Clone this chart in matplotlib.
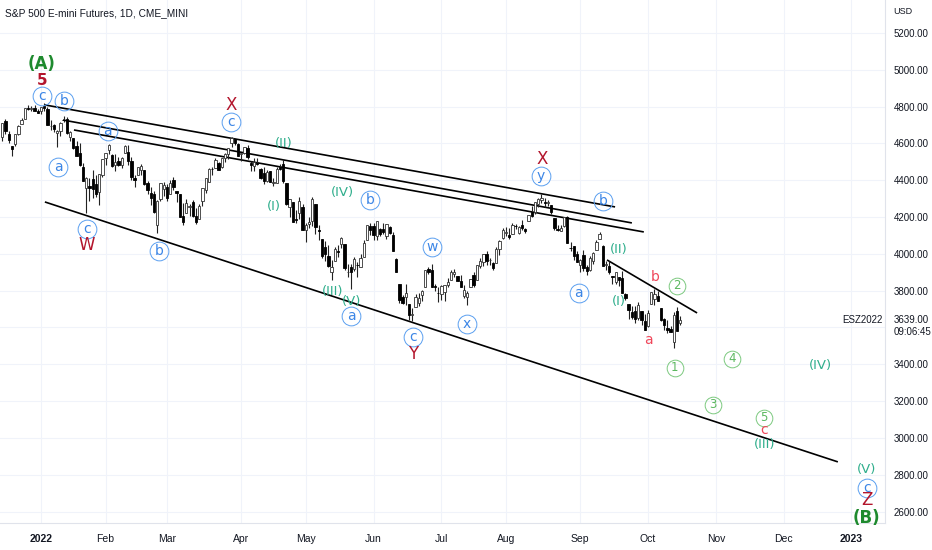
import numpy as np
import pandas as pd
import matplotlib
matplotlib.use('Agg')
import matplotlib.pyplot as plt

# trading calendar (CME equity futures, US holidays)
holidays = ['2021-12-24', '2022-01-17', '2022-02-21', '2022-04-15', '2022-05-30',
            '2022-06-20', '2022-07-04', '2022-09-05', '2022-11-24', '2022-12-26',
            '2023-01-02']
cal = pd.bdate_range('2021-12-13', '2023-02-28', freq='C', holidays=holidays)
first_bar = '2021-12-15'
n_bars = 211

# daily OHLC, Dec 15 2021 .. Oct 17 2022 (one line per month)
opens = [
    4636, 4719, 4652, 4588, 4595, 4650, 4703, 4733, 4795, 4788, 4795, 4776,
    4778, 4804, 4787, 4693, 4698, 4655, 4669, 4728, 4734, 4637, 4632, 4588, 4548, 4471, 4357, 4367, 4409, 4380, 4337, 4431,
    4520, 4566, 4536, 4482, 4506, 4481, 4548, 4554, 4506, 4413, 4429, 4455, 4456, 4385, 4332, 4324, 4155, 4298, 4354,
    4363, 4323, 4401, 4342, 4327, 4203, 4223, 4253, 4280, 4203, 4188, 4289, 4346, 4392, 4463, 4469, 4494, 4470, 4522, 4541, 4603, 4624, 4599,
    4541, 4547, 4573, 4495, 4475, 4494, 4462, 4438, 4394, 4449, 4386, 4386, 4473, 4489, 4385, 4255, 4279, 4187, 4222, 4253,
    4131, 4160, 4181, 4270, 4129, 4081, 4035, 3990, 3903, 3963, 4014, 4052, 4051, 3900, 3927, 3920, 3942, 3929, 3985, 4077, 4151,
    4149, 4096, 4137, 4134, 4097, 4148, 4101, 3974, 3838, 3764, 3764, 3729, 3666, 3709, 3734, 3774, 3821, 3920, 3913, 3826, 3786,
    3782, 3793, 3832, 3858, 3888, 3880, 3855, 3772, 3764, 3818, 3883, 3860, 3935, 3955, 4000, 3966, 3953, 3951, 4026, 4088,
    4112, 4104, 4108, 4154, 4116, 4156, 4133, 4181, 4228, 4225, 4269, 4290, 4280, 4274, 4266, 4195, 4133, 4126, 4153, 4198, 4034, 4042, 4000,
    3937, 3995, 3930, 3910, 3959, 4022, 4083, 4041, 3940, 3932, 3880, 3849, 3875, 3871, 3782, 3727, 3682, 3687, 3652, 3688, 3633,
    3610, 3726, 3753, 3772, 3706, 3647, 3596, 3590, 3521, 3690, 3625,
]
highs = [
    4712, 4731, 4666, 4588, 4651, 4698, 4740, 4791, 4807, 4805, 4808, 4787,
    4797, 4818, 4798, 4725, 4708, 4674, 4714, 4749, 4745, 4665, 4632, 4612, 4602, 4495, 4418, 4411, 4454, 4428, 4432, 4517,
    4547, 4595, 4542, 4540, 4528, 4526, 4590, 4589, 4527, 4427, 4473, 4490, 4456, 4395, 4363, 4340, 4295, 4385, 4389,
    4378, 4401, 4416, 4342, 4327, 4277, 4299, 4269, 4291, 4247, 4272, 4358, 4412, 4465, 4471, 4522, 4501, 4521, 4546, 4575, 4637, 4627, 4604,
    4549, 4583, 4594, 4503, 4521, 4521, 4464, 4471, 4453, 4452, 4410, 4471, 4489, 4513, 4386, 4300, 4279, 4240, 4308, 4270,
    4169, 4200, 4308, 4270, 4158, 4081, 4068, 4050, 3965, 4039, 4046, 4091, 4051, 3946, 3944, 3981, 3955, 3999, 4076, 4158, 4168,
    4167, 4177, 4143, 4169, 4164, 4149, 4119, 3975, 3838, 3778, 3838, 3729, 3708, 3780, 3790, 3802, 3913, 3928, 3946, 3837, 3818,
    3829, 3832, 3871, 3911, 3918, 3880, 3886, 3829, 3796, 3863, 3903, 3939, 3975, 3999, 4013, 3976, 3954, 4039, 4078, 4140,
    4144, 4140, 4167, 4161, 4151, 4186, 4138, 4211, 4258, 4280, 4301, 4325, 4302, 4293, 4266, 4195, 4159, 4157, 4200, 4204, 4062, 4044, 4015,
    3970, 4019, 3942, 3987, 4011, 4076, 4119, 4050, 3961, 3959, 3880, 3900, 3877, 3907, 3790, 3727, 3716, 3718, 3736, 3688, 3671,
    3696, 3791, 3807, 3798, 3707, 3652, 3641, 3607, 3685, 3712, 3660,
]
lows = [
    4612, 4651, 4600, 4531, 4584, 4645, 4703, 4733, 4780, 4778, 4775, 4765,
    4758, 4774, 4699, 4671, 4663, 4582, 4638, 4716, 4651, 4614, 4568, 4533, 4477, 4396, 4222, 4287, 4305, 4309, 4264, 4420,
    4484, 4544, 4471, 4452, 4476, 4465, 4547, 4480, 4402, 4365, 4429, 4430, 4373, 4327, 4268, 4222, 4114, 4287, 4317,
    4285, 4323, 4346, 4284, 4199, 4158, 4223, 4206, 4200, 4161, 4187, 4262, 4330, 4390, 4426, 4469, 4455, 4465, 4501, 4517, 4582, 4589, 4530,
    4507, 4540, 4514, 4450, 4451, 4485, 4408, 4382, 4392, 4392, 4371, 4385, 4455, 4385, 4268, 4200, 4175, 4166, 4188, 4131,
    4062, 4143, 4152, 4106, 4076, 3976, 3959, 3928, 3859, 3963, 3983, 4033, 3912, 3877, 3810, 3909, 3875, 3926, 3985, 4077, 4104,
    4074, 4074, 4098, 4109, 4080, 4108, 4017, 3901, 3735, 3725, 3722, 3640, 3636, 3709, 3717, 3743, 3821, 3889, 3821, 3800, 3738,
    3752, 3742, 3820, 3858, 3876, 3850, 3818, 3759, 3722, 3818, 3818, 3860, 3922, 3933, 3939, 3937, 3911, 3951, 3993, 4080,
    4096, 4080, 4108, 4135, 4108, 4129, 4112, 4177, 4201, 4219, 4257, 4277, 4253, 4261, 4218, 4129, 4124, 4122, 4147, 4057, 4017, 3965, 3954,
    3904, 3907, 3887, 3906, 3944, 4022, 4083, 3933, 3913, 3889, 3838, 3838, 3827, 3790, 3750, 3648, 3645, 3624, 3640, 3611, 3585,
    3604, 3726, 3723, 3744, 3633, 3589, 3569, 3575, 3491, 3583, 3615,
]
closes = [
    4709, 4669, 4621, 4568, 4649, 4697, 4726, 4791, 4786, 4793, 4778, 4766,
    4797, 4794, 4701, 4696, 4677, 4670, 4713, 4726, 4659, 4663, 4577, 4533, 4483, 4398, 4410, 4357, 4350, 4327, 4432, 4516,
    4546, 4589, 4477, 4501, 4484, 4522, 4587, 4504, 4419, 4402, 4472, 4475, 4380, 4349, 4305, 4226, 4289, 4385, 4374,
    4306, 4387, 4364, 4329, 4201, 4171, 4278, 4260, 4204, 4173, 4262, 4358, 4412, 4463, 4461, 4512, 4456, 4520, 4543, 4575, 4632, 4602, 4530,
    4546, 4583, 4525, 4481, 4500, 4488, 4413, 4397, 4447, 4392, 4391, 4463, 4459, 4394, 4272, 4296, 4175, 4183, 4288, 4132,
    4155, 4175, 4300, 4147, 4123, 3991, 4001, 3935, 3930, 4024, 4008, 4088, 3923, 3901, 3901, 3974, 3941, 3979, 4058, 4158, 4132,
    4101, 4177, 4109, 4121, 4161, 4116, 4018, 3901, 3750, 3735, 3790, 3667, 3675, 3765, 3760, 3796, 3912, 3901, 3821, 3819, 3785,
    3825, 3831, 3845, 3903, 3899, 3855, 3819, 3801, 3790, 3863, 3831, 3937, 3960, 3999, 3962, 3967, 3921, 4024, 4072, 4130,
    4119, 4091, 4155, 4152, 4145, 4140, 4122, 4210, 4207, 4280, 4297, 4305, 4275, 4284, 4228, 4138, 4128, 4141, 4199, 4058, 4031, 3986, 3955,
    3967, 3924, 3908, 3980, 4006, 4067, 4110, 3932, 3946, 3901, 3873, 3900, 3856, 3790, 3758, 3693, 3655, 3647, 3720, 3640, 3586,
    3678, 3791, 3783, 3745, 3640, 3612, 3589, 3577, 3670, 3583, 3639,
]
last_price = 3639

# axis ticks
month_dates = ['2022-01-03', '2022-02-01', '2022-03-01', '2022-04-01', '2022-05-02', '2022-06-01',
               '2022-07-01', '2022-08-01', '2022-09-01', '2022-10-03', '2022-11-01', '2022-12-01',
               '2023-01-03']
month_labels = ['2022', 'Feb', 'Mar', 'Apr', 'May', 'Jun', 'Jul', 'Aug', 'Sep', 'Oct', 'Nov', 'Dec', '2023']
price_ticks = [2600, 2800, 3000, 3200, 3400, 3800, 4000, 4200, 4400, 4600, 4800, 5000, 5200]

# trend lines: (bar, price) -> (bar, price), bar counted from Jan 3 2022
trend_lines = [
    ((1.2, 4809), (177.8, 4255)),
    ((6.8, 4727), (183.0, 4168)),
    ((10.2, 4673), (186.7, 4119)),
    ((1.2, 4282), (246.8, 2870)),
    ((175.3, 3967), (203.2, 3679)),
]

# wave labels (text, bar, price)
blue_circ = [('c', 0.3, 4858), ('b', 7.1, 4831), ('a', 5.3, 4472), ('c', 14.2, 4135),
             ('a', 20.7, 4668), ('b', 36.5, 4016), ('c', 58.8, 4717), ('b', 101.9, 4293),
             ('a', 96.0, 3663), ('c', 115.2, 3549), ('w', 121.1, 4038), ('x', 131.9, 3619),
             ('y', 154.8, 4423), ('b', 174.0, 4287), ('a', 166.6, 3788), ('c', 255.8, 2728)]
red_big = [('W', 14.2, 4048), ('X', 58.8, 4806), ('Y', 115.2, 3456), ('X', 155.2, 4518),
           ('Z', 255.8, 2663)]
green_big = [('(A)', 0.3, 5032), ('(B)', 255.8, 2565)]
red_five = [('5', 0.3, 4939)]
teal_roman = [('(II)', 75.3, 4597), ('(I)', 72.2, 4255), ('(IV)', 93.5, 4331), ('(III)', 90.4, 3793),
              ('(V)', 96.3, 3739), ('(II)', 179.0, 4021), ('(I)', 179.0, 3739), ('(IV)', 241.3, 3391),
              ('(III)', 224.2, 2967), ('(V)', 255.8, 2826)]
green_circ = [('1', 196.3, 3380), ('2', 197.0, 3826), ('3', 208.1, 3179), ('4', 214.0, 3429),
              ('5', 223.9, 3109)]
pink_small = [('a', 188.0, 3532), ('b', 190.2, 3875), ('c', 223.9, 3043)]

axis_font = ['Liberation Sans', 'DejaVu Sans']
txt_col = '#131722'
grid_col = '#f0f3fa'

i0 = cal.get_loc(pd.Timestamp('2022-01-03'))


def bar_of(d):
    return cal.get_loc(pd.Timestamp(d)) - i0


start = bar_of(first_bar)
x = np.arange(start, start + n_bars)
o = np.array(opens)
h = np.array(highs)
l = np.array(lows)
c = np.array(closes)

fig = plt.figure(figsize=(9.32, 5.5), dpi=100)
ax = fig.add_axes([0, 27 / 550, 885 / 932, 523 / 550])
ax.set_xlim(-12.7, 261.4)
ax.set_ylim(2538, 5379)

# grid
for p in range(2600, 5400, 200):
    ax.axhline(p, color=grid_col, lw=0.8, zorder=0)
mpos = [bar_of(d) for d in month_dates]
for m in mpos:
    ax.axvline(m, color=grid_col, lw=0.8, zorder=0)

# trend lines
for (x1, y1), (x2, y2) in trend_lines:
    ax.plot([x1, x2], [y1, y2], color='black', lw=1.2, zorder=2, solid_capstyle='butt')

# candles
up = c >= o
ax.vlines(x, l, h, color='#222222', lw=0.8, zorder=3)
ax.bar(x[up], (c - o)[up], bottom=o[up], width=0.72, color='white', edgecolor='#333333',
       lw=0.6, zorder=4)
ax.bar(x[~up], (o - c)[~up], bottom=c[~up], width=0.72, color='black', edgecolor='black',
       lw=0.6, zorder=4)

# labels
for t, bx, py in blue_circ:
    ax.plot(bx, py, 'o', ms=13.5, mfc='none', mec='#5a9ff0', mew=0.7, zorder=5)
    ax.text(bx, py, t, color='#3c86e6', fontsize=10, ha='center', va='center', zorder=6)
for t, bx, py in green_circ:
    ax.plot(bx, py, 'o', ms=12, mfc='none', mec='#7cc97f', mew=0.7, zorder=5)
    ax.text(bx, py, t, color='#5cb860', fontsize=8.5, ha='center', va='center', zorder=6)
for t, bx, py in red_big:
    ax.text(bx, py, t, color='#b3152c', fontsize=12, ha='center', va='center', zorder=6)
for t, bx, py in red_five:
    ax.text(bx, py, t, color='#b3152c', fontsize=11, fontweight='bold', ha='center', va='center', zorder=6)
for t, bx, py in green_big:
    ax.text(bx, py, t, color='#1e8a2e', fontsize=12, fontweight='bold', ha='center', va='center', zorder=6)
for t, bx, py in teal_roman:
    ax.text(bx, py, t, color='#2fae8c', fontsize=9.5, ha='center', va='center', zorder=6)
for t, bx, py in pink_small:
    ax.text(bx, py, t, color='#f0475a', fontsize=10, ha='center', va='center', zorder=6)

# axes styling
for s in ['top', 'left']:
    ax.spines[s].set_visible(False)
ax.spines['bottom'].set_color('#e0e3eb')
ax.spines['right'].set_color('#e0e3eb')
ax.yaxis.tick_right()
ax.set_yticks(price_ticks)
ax.set_yticklabels([f'{p:.2f}' for p in price_ticks], family=axis_font, fontsize=7, color=txt_col)
ax.set_xticks(mpos)
ax.set_xticklabels(month_labels, family=axis_font, fontsize=7.5, color=txt_col)
for lab in ax.get_xticklabels():
    if lab.get_text() in ('2022', '2023'):
        lab.set_fontweight('bold')
ax.tick_params(axis='y', length=0, pad=6)
ax.tick_params(axis='x', length=0, pad=8)

# last price marker
ax.annotate(f'{last_price:.2f}', xy=(1, last_price), xycoords=('axes fraction', 'data'),
            xytext=(6, 0), textcoords='offset points', ha='left', va='center',
            family=axis_font, fontsize=7, color=txt_col, annotation_clip=False)
ax.annotate('09:06:45', xy=(1, last_price), xycoords=('axes fraction', 'data'),
            xytext=(6, -8.5), textcoords='offset points', ha='left', va='center',
            family=axis_font, fontsize=7, color=txt_col, annotation_clip=False)
ax.annotate('ESZ2022', xy=(1, last_price), xycoords=('axes fraction', 'data'),
            xytext=(-2, 0), textcoords='offset points', ha='right', va='center',
            family=axis_font, fontsize=7, color=txt_col, annotation_clip=False)

fig.text(5 / 932, 1 - 13 / 550, 'S&P 500 E-mini Futures, 1D, CME_MINI', family=axis_font,
         fontsize=7.3, color=txt_col, va='center', ha='left')
fig.text(893 / 932, 1 - 11 / 550, 'USD', family=axis_font, fontsize=6.5, color=txt_col,
         va='center', ha='left')

fig.savefig('out.png', dpi=100, facecolor='white')
